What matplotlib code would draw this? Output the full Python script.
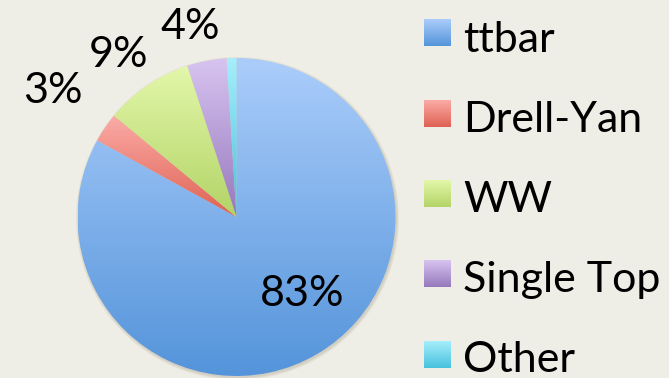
import numpy as np
import matplotlib
matplotlib.use("Agg")
import matplotlib.pyplot as plt
from matplotlib.colors import LinearSegmentedColormap
from matplotlib.patches import Circle

plt.rcParams["font.family"] = ["Lato", "DejaVu Sans"]

labels = ["ttbar", "Drell-Yan", "WW", "Single Top", "Other"]
shares = [83, 3, 9, 4, 1]
pct_text = ["83%", "3%", "9%", "4%", None]

# light (top) -> dark (bottom) fill for each slice
top_colors = ["#abcdfb", "#fbaca7", "#e3f7aa", "#d8c4f0", "#a6eefc"]
bottom_colors = ["#5494da", "#df6153", "#b2d466", "#9678bd", "#47c2dd"]

BG = "#efeee6"
W, H = 669, 378
CX, CY, R = 236.5, H - 217, 159
FS = 31

fig = plt.figure(figsize=(W / 100, H / 100), dpi=100, facecolor=BG)
ax = fig.add_axes([0, 0, 1, 1])
ax.set_facecolor(BG)

# soft shadow under the pie
for k, a in enumerate([0.10, 0.10, 0.12]):
    ax.add_patch(Circle((CX + 1.0, CY - 1.5), R + 2.5 - k, color="#8d8870",
                        alpha=a, lw=0, zorder=0))

wedges, _ = ax.pie(shares, startangle=90, counterclock=False, radius=R,
                   center=(CX, CY),
                   wedgeprops=dict(facecolor="none", edgecolor="none"))

grad = np.linspace(0, 1, 256).reshape(-1, 1)
for w, c0, c1 in zip(wedges, top_colors, bottom_colors):
    cmap = LinearSegmentedColormap.from_list("g", [c0, c1])
    ext = w.get_path().get_extents()
    im = ax.imshow(grad, cmap=cmap, aspect="auto", interpolation="bilinear",
                   extent=(ext.x0, ext.x1, ext.y0, ext.y1), origin="upper",
                   zorder=1)
    im.set_clip_path(w)

# percentage labels (left edge, baseline)
pct_pos = [(260, 306), (23, 103), (89, 67), (160, 39)]
for txt, (x, y) in zip(pct_text, pct_pos):
    ax.text(x, H - y, txt, fontsize=FS, ha="left", va="baseline", zorder=3)

# legend: gradient swatches with labels
for i, (lab, c0, c1) in enumerate(zip(labels, top_colors, bottom_colors)):
    yc = 33 + 80.3 * i
    cmap = LinearSegmentedColormap.from_list("g", [c0, c1])
    ax.imshow(grad, cmap=cmap, aspect="auto", interpolation="bilinear",
              extent=(424, 451, H - yc - 13.5, H - yc + 13.5), origin="upper",
              zorder=2)
    ax.text(463, H - (52 + 80 * i), lab, fontsize=FS, ha="left",
            va="baseline", zorder=3)

ax.set_xlim(0, W)
ax.set_ylim(0, H)
ax.set_aspect("equal")
ax.axis("off")

fig.savefig("out.png", dpi=100, facecolor=BG)
